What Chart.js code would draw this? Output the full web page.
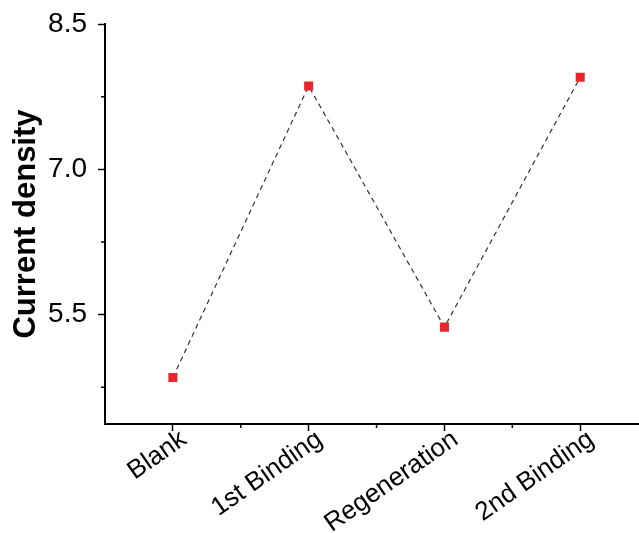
<!DOCTYPE html>
<html>
<head>
<meta charset="utf-8">
<script src="https://cdn.jsdelivr.net/npm/chart.js@4/dist/chart.umd.min.js"></script>
<style>
  html, body { margin: 0; padding: 0; background: #fff; overflow: hidden; }
  body { width: 639px; height: 533px; }
  /* a little wider than the window so the x axis runs off the right edge */
  #wrap { width: 645px; height: 533px; position: relative; }
</style>
</head>
<body>
<div id="wrap"><canvas id="myChart"></canvas></div>
<script>
var categories = ['Blank', '1st Binding', 'Regeneration', '2nd Binding'];
var values = [4.85, 7.86, 5.37, 7.95];
var yMajorTicks = [5.5, 7.0, 8.5];
var yMinorTicks = [4.75, 6.25, 7.75];
var xMinorTicks = [0.5, 1.5, 2.5];

var FONT = 'Arial, "Liberation Sans", Helvetica, sans-serif';

var points = [];
for (var i = 0; i < values.length; i++) {
  points.push({ x: i, y: values[i] });
}

// short minor ticks drawn outside the axes
var minorTicks = {
  id: 'minorTicks',
  afterDraw: function (chart) {
    var ctx = chart.ctx;
    var xs = chart.scales.x;
    var ys = chart.scales.y;
    ctx.save();
    ctx.strokeStyle = '#000';
    ctx.lineWidth = 1.5;
    ctx.beginPath();
    for (var i = 0; i < yMinorTicks.length; i++) {
      var py = ys.getPixelForValue(yMinorTicks[i]);
      ctx.moveTo(chart.chartArea.left, py);
      ctx.lineTo(chart.chartArea.left - 4, py);
    }
    for (var i = 0; i < xMinorTicks.length; i++) {
      var px = xs.getPixelForValue(xMinorTicks[i]);
      ctx.moveTo(px, chart.chartArea.bottom);
      ctx.lineTo(px, chart.chartArea.bottom + 4);
    }
    ctx.stroke();
    ctx.restore();
  }
};

const config = {
  type: 'line',
  data: {
    datasets: [{
      data: points,
      borderColor: '#333',
      borderWidth: 1.2,
      borderDash: [5, 4],
      pointStyle: 'rect',
      pointRadius: 6.4,
      pointBackgroundColor: '#e8252b',
      pointBorderColor: '#e8252b',
      pointBorderWidth: 0,
      tension: 0
    }]
  },
  options: {
    responsive: true,
    maintainAspectRatio: false,
    animation: false,
    layout: { padding: { top: 24, right: 0, left: 0, bottom: 0 } },
    plugins: {
      legend: { display: false },
      tooltip: { enabled: false }
    },
    scales: {
      x: {
        type: 'linear',
        min: -0.5,
        max: 3.43,
        afterBuildTicks: function (scale) {
          scale.ticks = categories.map(function (c, i) { return { value: i }; });
        },
        afterFit: function (scale) {
          scale.height = 109;
          scale.paddingRight = 0;
          scale.paddingLeft = 0;
        },
        border: { display: true, color: '#000', width: 2 },
        grid: {
          drawOnChartArea: false,
          drawTicks: true,
          tickLength: 7,
          tickColor: '#000',
          tickWidth: 1.5
        },
        ticks: {
          color: '#000',
          font: { family: FONT, size: 26 },
          minRotation: 35,
          maxRotation: 35,
          padding: -7,
          labelOffset: 11,
          autoSkip: false,
          callback: function (v) { return categories[v]; }
        }
      },
      y: {
        min: 4.37,
        max: 8.5,
        afterBuildTicks: function (scale) {
          scale.ticks = yMajorTicks.map(function (v) { return { value: v }; });
        },
        afterFit: function (scale) {
          scale.width = 105;
          scale.paddingTop = 0;
          scale.paddingBottom = 0;
        },
        border: { display: true, color: '#000', width: 2 },
        grid: {
          drawOnChartArea: false,
          drawTicks: true,
          tickLength: 7,
          tickColor: '#000',
          tickWidth: 1.5
        },
        ticks: {
          color: '#000',
          font: { family: FONT, size: 28 },
          padding: 11,
          callback: function (v) { return v.toFixed(1); }
        },
        title: {
          display: true,
          text: 'Current density',
          color: '#000',
          font: { family: FONT, size: 31, weight: 'bold' },
          padding: { top: 8, bottom: 0 }
        }
      }
    }
  },
  plugins: [minorTicks]
};

const myChart = new Chart(document.getElementById('myChart'), config);
</script>
</body>
</html>
